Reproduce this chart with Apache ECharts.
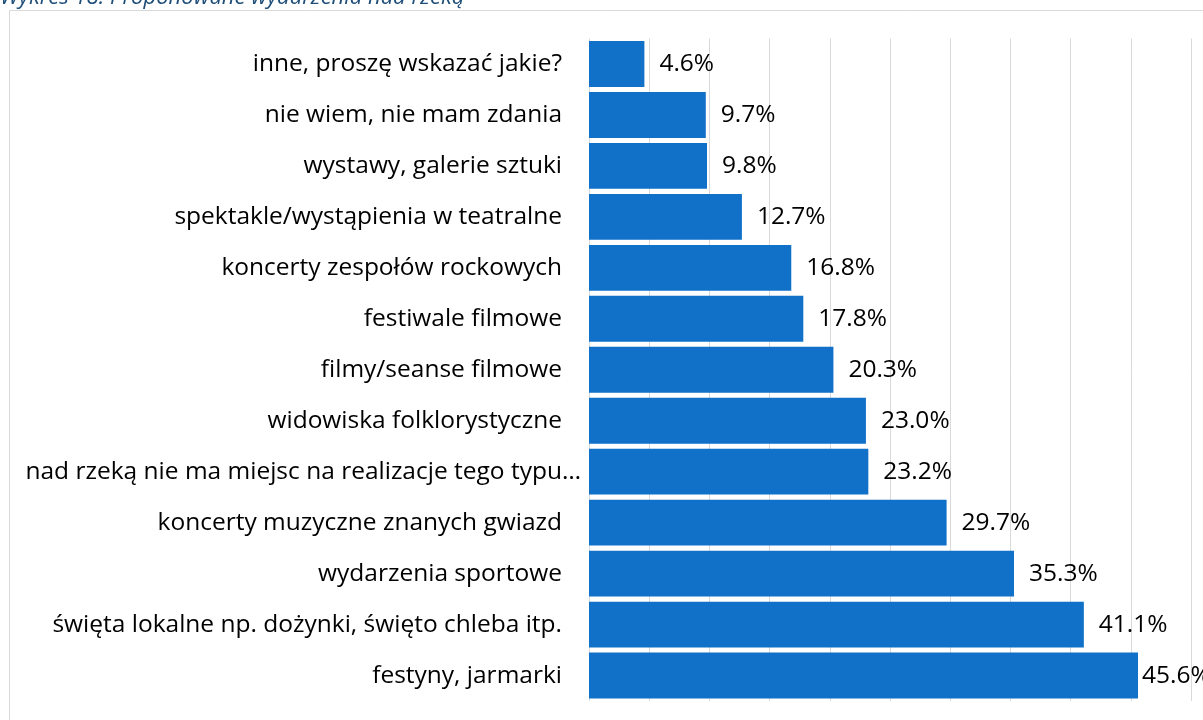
<!DOCTYPE html>
<html><head><meta charset="utf-8">
<script src="https://cdn.jsdelivr.net/npm/echarts@6/dist/echarts.min.js"></script>
<style>html,body{margin:0;padding:0;background:#fff}#c{width:1203px;height:720px}</style>
</head><body><div id="c"></div>
<script>
const categories = [
  "festyny, jarmarki",
  "święta lokalne np. dożynki, święto chleba itp.",
  "wydarzenia sportowe",
  "koncerty muzyczne znanych gwiazd",
  "nad rzeką nie ma miejsc na realizacje tego typu…",
  "widowiska folklorystyczne",
  "filmy/seanse filmowe",
  "festiwale filmowe",
  "koncerty zespołów rockowych",
  "spektakle/wystąpienia w teatralne",
  "wystawy, galerie sztuki",
  "nie wiem, nie mam zdania",
  "inne, proszę wskazać jakie?"
];
const values = [45.6, 41.1, 35.3, 29.7, 23.2, 23.0, 20.3, 17.8, 16.8, 12.7, 9.8, 9.7, 4.6];
const titleText = "Wykres 18. Proponowane wydarzenia nad rzeką";

const catData = categories.map(c => c.endsWith('…') ? {value:c, textStyle:{padding:[0,-19,0,0]}} : c);
const barData = values.map((v,i) => i === 0 ? {value:v, label:{distance:4}} : v);

const chart = echarts.init(document.getElementById('c'));
chart.setOption({
  animation: false,
  graphic: [
    {type:'rect', shape:{x:9.5,y:10.5,width:1200,height:720}, style:{fill:'none', stroke:'#d9d9d9', lineWidth:1}},
    {type:'text', left:0, top:-13, style:{text:titleText, font:'italic 22px "Open Sans"', fill:'#1f4e79'}}
  ],
  grid: {left:589, right:12, top:38.5, bottom:19},
  xAxis: {
    type:'value', min:0, max:50, interval:5,
    axisLabel:{show:false},
    axisLine:{show:false},
    axisTick:{show:false},
    splitLine:{show:true, lineStyle:{color:'#d9d9d9', width:1}}
  },
  yAxis: {
    type:'category', data:catData,
    axisLine:{show:false}, axisTick:{show:false},
    axisLabel:{color:'#000', fontSize:24.5, fontFamily:'"Open Sans"', margin:27}
  },
  series: [{
    type:'bar', data:barData, barCategoryGap:'10%',
    itemStyle:{color:'#1170c8'},
    label:{show:true, position:'right', distance:15, color:'#000', fontSize:24.5, fontFamily:'"Open Sans"',
      formatter: p => p.value.toFixed(1) + '%'}
  }]
});
</script></body></html>
